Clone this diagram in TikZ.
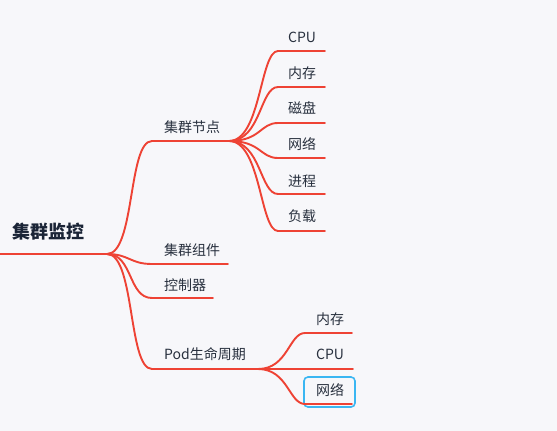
\documentclass[tikz,border=0pt]{standalone}
\usepackage{fontspec}
\setmainfont{Noto Sans CJK SC}
\definecolor{bgc}{RGB}{247,247,250}
\definecolor{linec}{RGB}{238,66,52}
\definecolor{txtc}{RGB}{40,48,62}
\definecolor{rootc}{RGB}{26,36,54}
\definecolor{selc}{RGB}{58,182,242}
\begin{document}
\begin{tikzpicture}[x=1pt,y=-1pt,
  branch/.style={draw=linec, line width=1.9pt, line cap=round},
  lbl/.style={anchor=west, inner sep=0pt, text=txtc, font=\fontsize{14}{15}\selectfont},
  rootlbl/.style={anchor=west, inner sep=0pt, text=rootc, font=\fontsize{18}{20}\selectfont\bfseries},
  selbox/.style={draw=selc, line width=1.6pt, rounded corners=4pt}]
\fill[bgc] (0,0) rectangle (557,431);
\useasboundingbox (0,0) rectangle (557,431);

% root
\node[rootlbl] (root) at (12,232) {集群监控};
\coordinate (r0) at (0,254);
\coordinate (r1) at (107,254);
\draw[branch] (r0) -- (r1);

% level 1
\node[lbl] (n1) at (164,127) {集群节点};
\node[lbl] (n2) at (164,250) {集群组件};
\node[lbl] (n3) at (164,285) {控制器};
\node[lbl] (n4) at (164,354) {Pod生命周期};

\coordinate (s1) at (152,141); \coordinate (e1) at (229,141);
\coordinate (s2) at (152,264); \coordinate (e2) at (228,264);
\coordinate (s3) at (152,298); \coordinate (e3) at (213,298);
\coordinate (s4) at (152,369); \coordinate (e4) at (258,369);

\draw[branch] (r1) .. controls +(28,0) and +(-24,0) .. (s1) -- (e1);
\draw[branch] (r1) .. controls +(22,0) and +(-22,0) .. (s2) -- (e2);
\draw[branch] (r1) .. controls +(26,0) and +(-24,0) .. (s3) -- (e3);
\draw[branch] (r1) .. controls +(28,0) and +(-24,0) .. (s4) -- (e4);

% children of 集群节点
\node[lbl] (c1) at (288,37) {CPU};
\node[lbl] (c2) at (288,73) {内存};
\node[lbl] (c3) at (288,108) {磁盘};
\node[lbl] (c4) at (288,144) {网络};
\node[lbl] (c5) at (288,181) {进程};
\node[lbl] (c6) at (288,216) {负载};

\foreach \i/\y in {1/51,2/87,3/123,4/158,5/194,6/231}{
  \coordinate (cs\i) at (278,\y);
  \coordinate (ce\i) at (325,\y);
  \draw[branch] (e1) .. controls +(32,0) and +(-18,0) .. (cs\i) -- (ce\i);
}

% children of Pod生命周期
\node[lbl] (p1) at (316,319) {内存};
\node[lbl] (p2) at (316,354) {CPU};
\node[lbl] (p3) at (316,390) {网络};
\node[selbox, minimum width=51pt, minimum height=30pt, anchor=center] (sel) at (329.5,392) {};

\coordinate (ps1) at (305,333); \coordinate (pe1) at (352,333);
\coordinate (pe2) at (353,369);
\coordinate (ps3) at (305,404); \coordinate (pe3) at (352,404);
\draw[branch] (e4) .. controls +(30,0) and +(-16,0) .. (ps1) -- (pe1);
\draw[branch] (e4) -- (pe2);
\draw[branch] (e4) .. controls +(30,0) and +(-16,0) .. (ps3) -- (pe3);
\end{tikzpicture}
\end{document}
